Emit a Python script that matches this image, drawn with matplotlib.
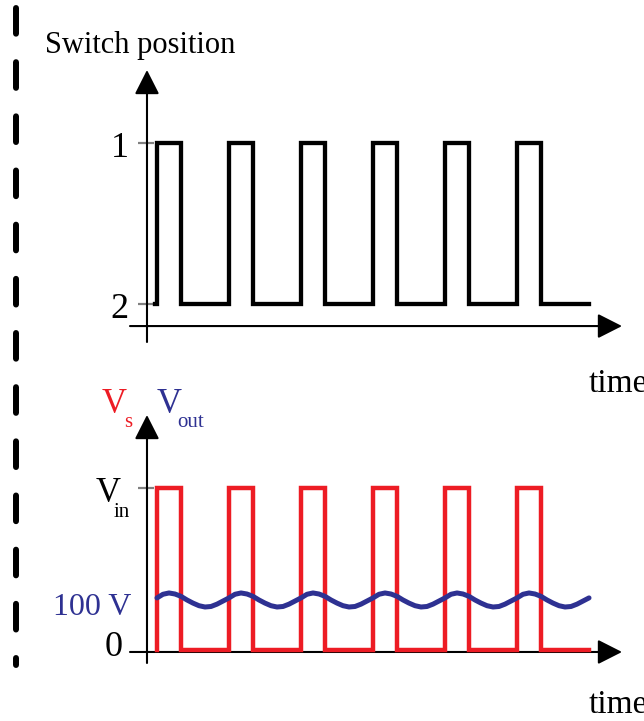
import matplotlib
matplotlib.use("Agg")
import matplotlib.pyplot as plt
import numpy as np

plt.rcParams["font.family"] = ["Liberation Serif", "DejaVu Serif"]
plt.rcParams["lines.scale_dashes"] = False

##### data
# switch position: 1 -> position "1", 0 -> position "2"
switch_t = [-0.03, 0.0, 0.333, 1.0, 1.333, 2.0, 2.333, 3.0, 3.333, 4.0, 4.333, 5.0, 5.333, 6.0]
switch_pos = [0, 1, 0, 1, 0, 1, 0, 1, 0, 1, 0, 1, 0, 0]

# source voltage V_s (volts), same switching instants
vin = 315
vs_t = [0.0, 0.0, 0.333, 1.0, 1.333, 2.0, 2.333, 3.0, 3.333, 4.0, 4.333, 5.0, 5.333, 6.0]
vs = [3.8, vin, 3.8, vin, 3.8, vin, 3.8, vin, 3.8, vin, 3.8, vin, 3.8, 3.8]

# output voltage ripple, one switching period sampled every 1/12 period
vout_one_period = [104, 111, 113.5, 111.5, 107, 100, 94, 89, 86.5, 87.5, 92, 98]
n_periods = 6
vout = np.append(np.tile(vout_one_period, n_periods), vout_one_period[0])
vout_t = np.arange(len(vout)) / len(vout_one_period)

top_ticks = [1, 0]
top_tick_labels = ["1", "2"]
bottom_ticks = [vin]

RED = "#ED1C24"
BLUE = "#2E3192"
GRAY = "#808080"

W, H = 644, 721
fig = plt.figure(figsize=(W / 100, H / 100), dpi=100)


def box(l, t, r, b):
    # pixel box (left, top, right, bottom) -> figure fraction
    return [l / W, 1 - b / H, (r - l) / W, (b - t) / H]


def ftext(x, y, s, **kw):
    fig.text(x / W, 1 - y / H, s, **kw)


def draw_axes(ax, xlo, xhi, ylo, yhi, x_ax, y_ax):
    head = dict(arrowstyle="-|>,head_length=0.75,head_width=0.38", mutation_scale=20,
                lw=1.5, color="k", shrinkA=0, shrinkB=0)
    ax.annotate("", xy=(xhi, y_ax), xytext=(xlo, y_ax), arrowprops=head, annotation_clip=False)
    ax.annotate("", xy=(x_ax, yhi), xytext=(x_ax, ylo), arrowprops=head, annotation_clip=False)


XLIM = (-0.375, 6.458)
X_AX = -0.139
TICK_X = (-0.264, -0.042)

########## top: switch position
ax1 = fig.add_axes(box(130, 70, 622, 342))
ax1.set_xlim(*XLIM)
ax1.set_ylim(-0.236, 1.453)
ax1.axis("off")
draw_axes(ax1, XLIM[0], XLIM[1], -0.236, 1.453, X_AX, -0.137)
for yv in top_ticks:
    ax1.plot(TICK_X, [yv, yv], color=GRAY, lw=1.6, solid_capstyle="butt")
ax1.plot(switch_t, switch_pos, drawstyle="steps-post", color="k", lw=3.1,
         solid_joinstyle="miter", zorder=3)

########## bottom: V_s and V_out
ax2 = fig.add_axes(box(130, 415, 622, 663))
ax2.set_xlim(*XLIM)
ax2.set_ylim(-21.2, 455.8)
ax2.axis("off")
draw_axes(ax2, XLIM[0], XLIM[1], -21.2, 455.8, X_AX, 0)
for yv in bottom_ticks:
    ax2.plot(TICK_X, [yv, yv], color=GRAY, lw=1.6, solid_capstyle="butt")
ax2.plot(vs_t, vs, drawstyle="steps-post", color=RED, lw=3.2,
         solid_joinstyle="miter", zorder=3)
ax2.plot(vout_t, vout, color=BLUE, lw=3.6, solid_capstyle="round",
         solid_joinstyle="round", zorder=4)

########## labels
ftext(45, 53, "Switch position", fontsize=22, va="baseline")
ftext(129, 157, top_tick_labels[0], fontsize=26, ha="right", va="baseline")
ftext(129, 318, top_tick_labels[1], fontsize=26, ha="right", va="baseline")
ftext(589, 392, "time", fontsize=24, va="baseline")

ftext(102, 413, "V", fontsize=25, color=RED, va="baseline")
ftext(124, 427, "s", fontsize=15, color=RED, va="baseline")
ftext(157, 413, "V", fontsize=25, color=BLUE, va="baseline")
ftext(177, 427, "out", fontsize=15, color=BLUE, va="baseline")

ftext(96, 502, "V", fontsize=25, va="baseline")
ftext(114, 517, "in", fontsize=15, va="baseline")
ftext(131, 615, "100 V", fontsize=23, color=BLUE, ha="right", va="baseline")
ftext(123, 656, "0", fontsize=26, ha="right", va="baseline")
ftext(589, 713, "time", fontsize=24, va="baseline")

########## dashed separator on the left
ov = fig.add_axes([0, 0, 1, 1])
ov.set_xlim(0, W)
ov.set_ylim(H, 0)
ov.axis("off")
ov.plot([16, 16], [8, 665], color="k", lw=4.3, dashes=(18.5, 20.5),
        dash_capstyle="round")

fig.savefig("out.png", dpi=100)
